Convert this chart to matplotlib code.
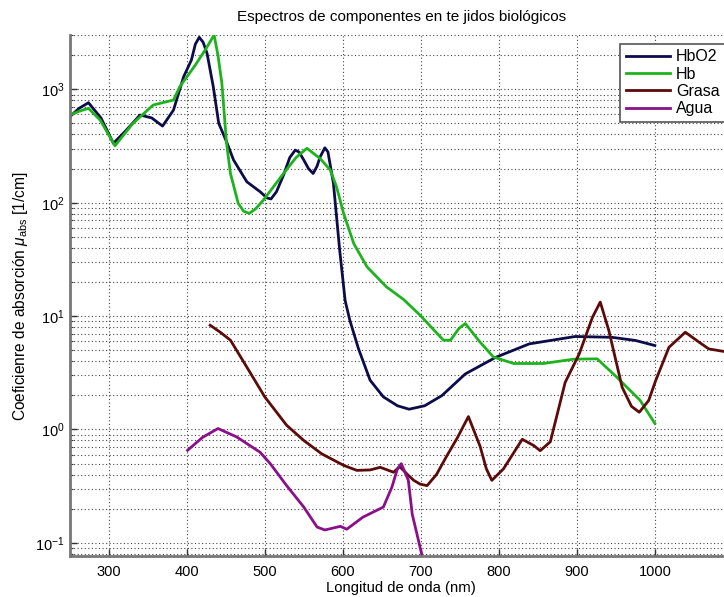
import matplotlib
matplotlib.use("Agg")
import matplotlib.pyplot as plt
from matplotlib.ticker import LogLocator, NullFormatter, FixedLocator

plt.rcParams['font.family'] = ['Liberation Sans', 'DejaVu Sans']
plt.rcParams['mathtext.fontset'] = 'custom'
plt.rcParams['mathtext.rm'] = 'Liberation Sans'
plt.rcParams['mathtext.it'] = 'Liberation Sans:italic'

title = "Espectros de componentes en te jidos biológicos"
xlabel = "Longitud de onda (nm)"
ylabel = r"Coeficienre de absorción $\mu_{\rm abs}$ [1/cm]"
labels = ["HbO2", "Hb", "Grasa", "Agua"]
xticks = [300, 400, 500, 600, 700, 800, 900, 1000]

hbo2_x = [250, 262, 274, 290, 306, 323, 340, 355, 369, 383, 396, 406, 411, 416, 421, 426, 434, 441, 451, 460,
          477, 494, 503, 508, 515, 524, 532, 539, 544, 550, 556, 562, 567, 571, 577, 581, 588, 596, 603, 609,
          620, 635, 652, 670, 685, 705, 727, 757, 796, 839, 898, 945, 975, 1000]
hbo2_y = [573, 680, 762, 560, 334, 440, 593, 560, 474, 656, 1292, 1814, 2500, 2878, 2600, 2078, 1054, 501, 345, 238,
          153, 125, 110, 108, 125, 175, 250, 291, 280, 238, 200, 181, 210, 254, 305, 280, 148, 38.2, 13.7, 9.2,
          5.18, 2.72, 1.94, 1.62, 1.51, 1.62, 1.99, 3.09, 4.33, 5.69, 6.61, 6.5, 6.1, 5.5]

hb_x = [250, 262, 274, 289, 308, 331, 357, 383, 391, 410, 425, 435, 440, 445, 451, 456, 466, 473, 480, 488,
        498, 524, 540, 554, 571, 584, 592, 601, 614, 631, 656, 678, 699, 729, 738, 749, 757, 775, 793,
        819, 857, 896, 926, 951, 981, 1000]
hb_y = [593, 640, 680, 536, 318, 501, 727, 805, 1054, 1600, 2300, 3016, 2000, 1130, 334, 181, 98.6, 84, 80.5, 88,
        105, 181, 250, 302, 245, 194, 138, 80.5, 43.7, 27.2, 18.1, 14.0, 10.2, 6.13, 6.13, 7.8, 8.6, 6.0, 4.36,
        3.82, 3.82, 4.17, 4.2, 2.9, 1.81, 1.13]

grasa_x = [430, 443, 456, 473, 500, 528, 550, 573, 601, 618, 635, 648, 665, 673, 684, 691, 699, 708,
           720, 733, 747, 761, 776, 784, 791, 806, 830, 845, 853, 866, 885, 903, 920, 930, 941, 958,
           970, 980, 992, 1001, 1018, 1039, 1055, 1069, 1089]
grasa_y = [8.31, 7.2, 6.13, 3.94, 1.94, 1.09, 0.80, 0.61, 0.483, 0.436, 0.44, 0.464, 0.42, 0.47, 0.394, 0.356, 0.33, 0.32,
           0.40, 0.58, 0.85, 1.30, 0.71, 0.45, 0.356, 0.45, 0.82, 0.72, 0.65, 0.78, 2.6, 4.64, 9.77, 13.3, 7.46, 2.36,
           1.6, 1.42, 1.8, 2.7, 5.3, 7.21, 6.0, 5.14, 4.87]

agua_x = [401, 420, 440, 464, 494, 507, 528, 550, 567, 577, 597, 605, 626, 652, 663, 670, 675, 684, 689, 695, 703]
agua_y = [0.655, 0.85, 1.02, 0.86, 0.63, 0.50, 0.32, 0.207, 0.138, 0.13, 0.14, 0.132, 0.169, 0.207, 0.311, 0.45, 0.50, 0.356, 0.179, 0.12, 0.07]

colors = ["#0c0c4a", "#1db31d", "#5c0a0a", "#8a108a"]

fig = plt.figure(figsize=(7.24, 5.97), dpi=100)
ax = fig.add_axes([0.0963, 0.068, 0.916, 0.873])

series = [(hbo2_x, hbo2_y), (hb_x, hb_y), (grasa_x, grasa_y), (agua_x, agua_y)]
for (xs, ys), c, lab in zip(series, colors, labels):
    ax.plot(xs, ys, color=c, lw=2.0, label=lab, solid_joinstyle='round')

ax.set_yscale('log')
ax.set_xlim(250, 1100)
ax.set_ylim(0.076, 3000)
ax.xaxis.set_major_locator(FixedLocator(xticks))
ax.yaxis.set_major_locator(LogLocator(base=10, numticks=10))
ax.yaxis.set_minor_locator(LogLocator(base=10, subs=range(2, 10), numticks=20))
ax.yaxis.set_minor_formatter(NullFormatter())

ax.grid(True, which='major', axis='both', linestyle=(0, (1, 2.2)), color='#444444', lw=0.8)
ax.grid(True, which='minor', axis='y', linestyle=(0, (1, 2.2)), color='#444444', lw=0.8)

for s in ['top', 'right']:
    ax.spines[s].set_visible(False)
for s in ['left', 'bottom']:
    ax.spines[s].set_color('#777777')
    ax.spines[s].set_linewidth(2.0)

ax.tick_params(which='both', direction='in', labelsize=10.5, colors='black')
ax.tick_params(which='major', length=5, width=1, color='#333333')
ax.tick_params(which='minor', length=2.5, width=0.8, color='#333333')
ax.tick_params(axis='x', pad=6.5)

ax.set_title(title, fontsize=11, pad=10)
ax.set_xlabel(xlabel, fontsize=10.7, labelpad=1)
ax.set_ylabel(ylabel, fontsize=11.2, labelpad=4)

leg = ax.legend(loc='upper left', bbox_to_anchor=(0.830, 0.984), fontsize=11.5, frameon=True,
                fancybox=False, edgecolor='#555555', framealpha=1, handlelength=2.8,
                borderpad=0.35, labelspacing=0.15, handletextpad=0.36, borderaxespad=0)
leg.get_frame().set_linewidth(1.2)

fig.savefig("out.png", dpi=100)
